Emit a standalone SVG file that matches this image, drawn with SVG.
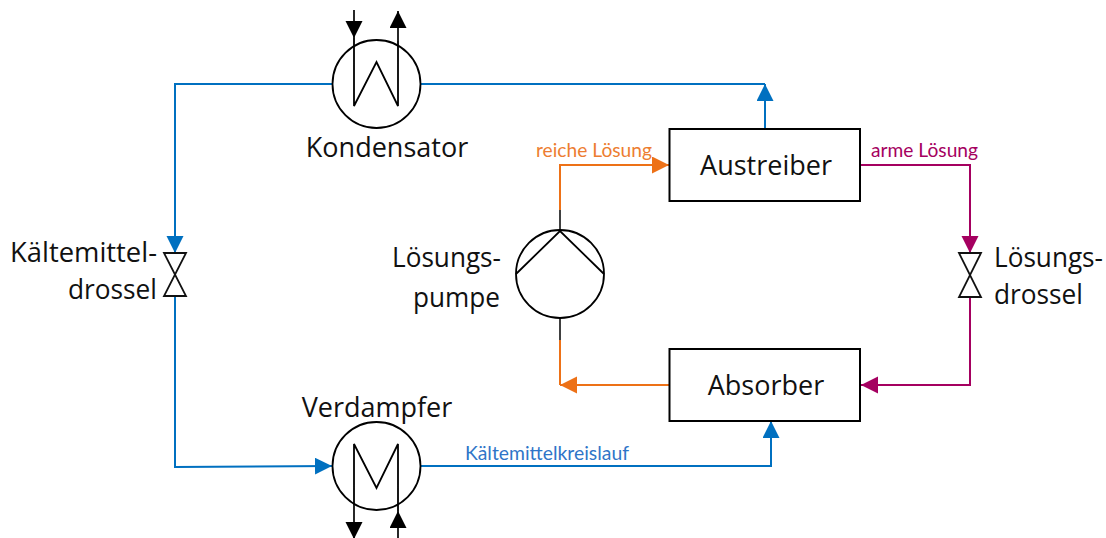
<svg xmlns="http://www.w3.org/2000/svg" width="1106" height="538" viewBox="0 0 1106 538">
<style>
.s{fill:none;stroke:#000;stroke-width:1.8}
.k{fill:none;stroke:#111;stroke-width:1.8}
.b{fill:none;stroke:#0070c0;stroke-width:2}
.o{fill:none;stroke:#ed7117;stroke-width:2}
.m{fill:none;stroke:#a50060;stroke-width:2}
.g{fill:none;stroke:#404040;stroke-width:2}
.t{font-family:"Open Sans",sans-serif;font-size:27px;fill:#111}
.l{font-family:"Lato",sans-serif;font-size:19px}
.box{fill:#fff;stroke:#000;stroke-width:2}
</style>
<defs>
<marker id="ab" markerUnits="userSpaceOnUse" markerWidth="18" markerHeight="18" refX="17" refY="8.500" orient="auto"><path d="M0 0L17 8.500L0 17Z" fill="#0070c0"/></marker>
<marker id="ao" markerUnits="userSpaceOnUse" markerWidth="18" markerHeight="18" refX="17" refY="8.500" orient="auto"><path d="M0 0L17 8.500L0 17Z" fill="#ed7117"/></marker>
<marker id="am" markerUnits="userSpaceOnUse" markerWidth="18" markerHeight="18" refX="17" refY="8.500" orient="auto"><path d="M0 0L17 8.500L0 17Z" fill="#a50060"/></marker>
<marker id="ak" markerUnits="userSpaceOnUse" markerWidth="18" markerHeight="18" refX="17" refY="8.500" orient="auto"><path d="M0 0L17 8.500L0 17Z" fill="#000"/></marker>
</defs>
<g id="connectors">
<path class="b" marker-end="url(#ab)" d="M332 84H175V253"/>
<path class="b" marker-end="url(#ab)" d="M175 297V467L332 466"/>
<path class="b" d="M421 84H765"/>
<path class="b" marker-end="url(#ab)" d="M765 129V84"/>
<path class="b" marker-end="url(#ab)" d="M421 466H771V421"/>
<path class="o" marker-end="url(#ao)" d="M560 210V165H669"/>
<path class="o" d="M560 340V385"/>
<path class="o" marker-end="url(#ao)" d="M669 385H560"/>
<path class="m" marker-end="url(#am)" d="M860 165H970V253"/>
<path class="m" marker-end="url(#am)" d="M970 297V385H861"/>
<path class="g" d="M560 210V230M560 319V340"/>
<path class="k" marker-end="url(#ak)" d="M354 10V38"/>
<path class="k" marker-end="url(#ak)" d="M398 41V11"/>
<path class="k" marker-end="url(#ak)" d="M354 505V539"/>
<path class="k" marker-end="url(#ak)" d="M398 538V511"/>
</g>
<g id="kondensator">
<circle class="s" cx="376.500" cy="84" r="44"/>
<path class="s" d="M354 38V106L376.500 62L398 106V41"/>
<text class="t" x="387" y="157" text-anchor="middle">Kondensator</text>
</g>
<g id="verdampfer">
<circle class="s" cx="376.500" cy="466" r="44"/>
<path class="s" d="M354 505V444L376.500 488L398 444V511"/>
<text class="t" x="377" y="417" text-anchor="middle">Verdampfer</text>
</g>
<g id="pumpe">
<circle class="s" cx="560" cy="274" r="44"/>
<path class="s" d="M516 274L560 231L604 274"/>
<text class="t" x="392" y="267" textLength="109" lengthAdjust="spacingAndGlyphs">Lösungs-</text>
<text class="t" x="413" y="307" textLength="87" lengthAdjust="spacingAndGlyphs">pumpe</text>
</g>
<g id="austreiber">
<rect class="box" x="669.500" y="129" width="190.500" height="72"/>
<text class="t" x="766" y="175" text-anchor="middle">Austreiber</text>
</g>
<g id="absorber">
<rect class="box" x="669.500" y="349" width="190.500" height="72"/>
<text class="t" x="766" y="395" text-anchor="middle">Absorber</text>
</g>
<g id="kaeltemitteldrossel">
<path class="k" d="M164 253H186L164 296H186Z"/>
<text class="t" x="10" y="262" textLength="147" lengthAdjust="spacingAndGlyphs">Kältemittel-</text>
<text class="t" x="68" y="299" textLength="89" lengthAdjust="spacingAndGlyphs">drossel</text>
</g>
<g id="loesungsdrossel">
<path class="k" d="M959 253H981L959 297H981Z"/>
<text class="t" x="994" y="267" textLength="109" lengthAdjust="spacingAndGlyphs">Lösungs-</text>
<text class="t" x="994" y="304" textLength="89" lengthAdjust="spacingAndGlyphs">drossel</text>
</g>
<g id="labels">
<text class="l" x="536" y="157" fill="#ed7d31" textLength="116" lengthAdjust="spacingAndGlyphs">reiche Lösung</text>
<text class="l" x="871" y="157" fill="#a50060" textLength="107" lengthAdjust="spacingAndGlyphs">arme Lösung</text>
<text class="l" x="465" y="460" fill="#2f75c8" textLength="164" lengthAdjust="spacingAndGlyphs">Kältemittelkreislauf</text>
</g>
</svg>
